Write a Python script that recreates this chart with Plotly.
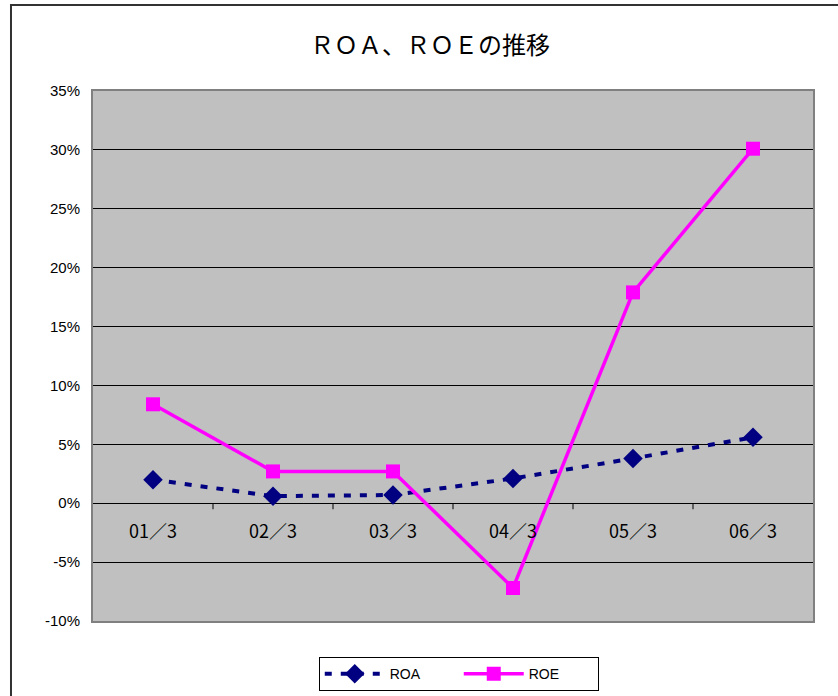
import plotly.graph_objects as go

categories = ["01／3", "02／3", "03／3", "04／3", "05／3", "06／3"]
roa = [2.0, 0.6, 0.7, 2.1, 3.8, 5.6]
roe = [8.4, 2.7, 2.7, -7.2, 17.9, 30.1]
y_ticks = [-10, -5, 0, 5, 10, 15, 20, 25, 30, 35]
y_labels = [f"{v}%" for v in y_ticks]

fig = go.Figure()
fig.add_trace(go.Scatter(
    x=categories, y=roa, name="ROA", mode="lines+markers",
    line=dict(color="#000080", width=4, dash="7px,9px"),
    marker=dict(symbol="diamond", size=15, color="#000080"),
))
fig.add_trace(go.Scatter(
    x=categories, y=roe, name="ROE", mode="lines+markers",
    line=dict(color="#FF00FF", width=3.5),
    marker=dict(symbol="square", size=14, color="#FF00FF"),
))

# category labels just below the zero line
for c in categories:
    fig.add_annotation(x=c, y=0, xref="x", yref="y", text=c, showarrow=False,
                       yanchor="top", yshift=-12,
                       font=dict(family="Noto Sans CJK JP", size=18, color="black"))

# tick marks between categories on the zero line
shapes = []
for i in range(len(categories) - 1):
    shapes.append(dict(type="line", xref="x", yref="y", x0=i + 0.5, x1=i + 0.5,
                       ysizemode="pixel", yanchor=0, y0=0, y1=-6,
                       line=dict(color="black", width=1)))
# outer chart border
shapes.append(dict(type="rect", xref="paper", yref="paper",
                   x0=-0.1139, x1=1.08, y0=-0.2, y1=1.1623,
                   line=dict(color="#333333", width=2), layer="below"))
fig.update_layout(shapes=shapes)

fig.update_layout(
    width=838, height=696,
    margin=dict(l=93, r=25, t=91, b=75, autoexpand=False),
    paper_bgcolor="white", plot_bgcolor="#C0C0C0",
    title=dict(text="ＲＯＡ、ＲＯＥの推移", x=0.513, xanchor="center", y=0.935, yanchor="middle",
               font=dict(family="Noto Sans CJK JP", size=24, color="black")),
    showlegend=True,
    legend=dict(orientation="h", x=0.508, xanchor="center", y=-0.068, yanchor="top",
                bordercolor="black", borderwidth=1, bgcolor="white",
                font=dict(family="Liberation Sans", size=14, color="black"),
                itemwidth=60, entrywidth=64, tracegroupgap=0),
    font=dict(family="Liberation Sans", color="black"),
)
fig.update_xaxes(
    type="category", range=[-0.5, 5.5], showticklabels=False, showgrid=False,
    zeroline=False, showline=True, linecolor="#808080", linewidth=2, mirror=True,
    ticks="",
)
fig.update_yaxes(
    range=[-10, 35], tickvals=y_ticks, ticktext=y_labels,
    showgrid=True, gridcolor="black", gridwidth=1,
    zeroline=True, zerolinecolor="black", zerolinewidth=1,
    showline=True, linecolor="#808080", linewidth=2, mirror=True,
    ticks="inside", ticklen=6, tickcolor="black",
    tickfont=dict(family="Liberation Sans", size=15, color="black"),
    ticklabelstandoff=8,
)

fig.write_html("out.html", config={"displayModeBar": False})

# remove default page margin so the figure sits at the window origin
with open("out.html", "r", encoding="utf-8") as f:
    html = f.read()
html = html.replace("<head>", "<head><style>html,body{margin:0;padding:0;overflow:hidden}</style>", 1)
with open("out.html", "w", encoding="utf-8") as f:
    f.write(html)
